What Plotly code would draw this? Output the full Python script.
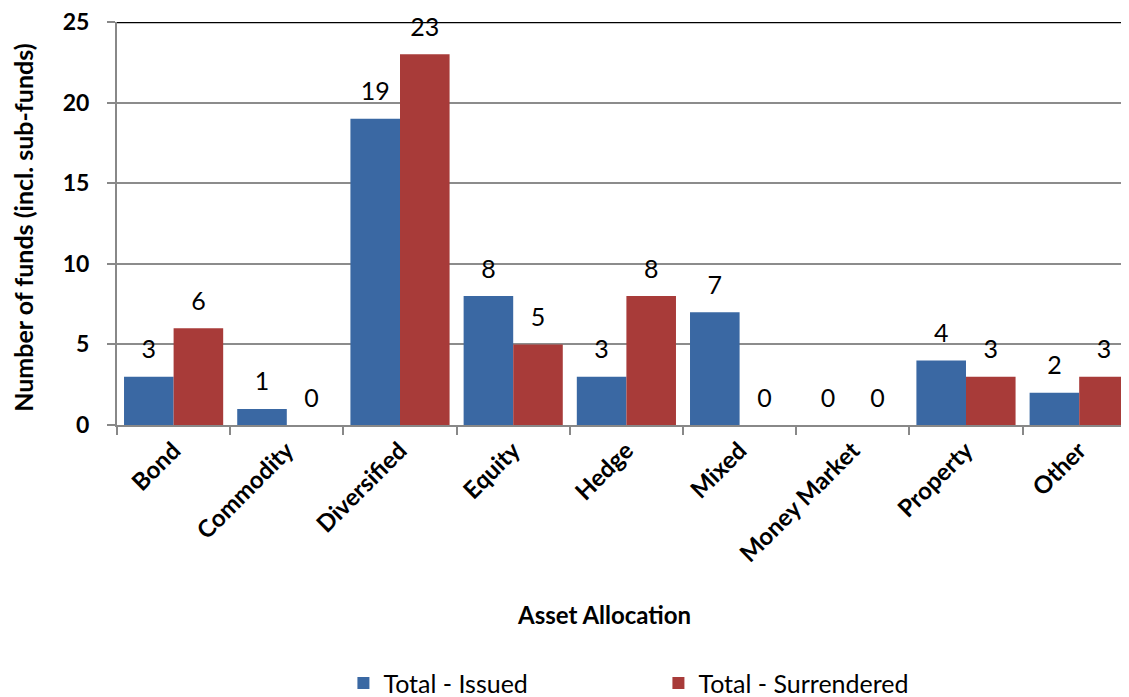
import plotly.graph_objects as go

categories = ["Bond", "Commodity", "Diversified", "Equity", "Hedge", "Mixed",
              "Money Market", "Property", "Other"]
issued = [3, 1, 19, 8, 3, 7, 0, 4, 2]
surrendered = [6, 0, 23, 5, 8, 0, 0, 3, 3]
y_ticks = [0, 5, 10, 15, 20, 25]

FONT = "Lato"
BLUE = "#3a68a3"
RED = "#a83b39"

fig = go.Figure()
for name, vals, col in [("Total - Issued", issued, BLUE),
                        ("Total - Surrendered", surrendered, RED)]:
    fig.add_trace(go.Bar(
        x=categories, y=vals, name=name,
        marker=dict(color=col, line=dict(width=0)),
        hoverinfo="skip",
    ))
for name, vals in [("Total - Issued", issued), ("Total - Surrendered", surrendered)]:
    fig.add_trace(go.Scatter(
        x=categories, y=vals, mode="markers+text", showlegend=False,
        text=[str(v) for v in vals], textposition="top center",
        marker=dict(size=18, color="rgba(0,0,0,0)"),
        textfont=dict(size=25, color="#000", family=FONT),
        cliponaxis=False, hoverinfo="skip",
    ))

# page body has an 8px margin, so the figure is drawn 8px smaller and offset
fig.update_layout(
    width=1121, height=689,
    margin=dict(l=109, r=0, t=14, b=272, autoexpand=False),
    plot_bgcolor="white", paper_bgcolor="white",
    barmode="group", bargap=0.124, bargroupgap=0,
    scattermode="group", scattergap=0.124,
    font=dict(family=FONT, color="#000"),
    showlegend=True,
    legend=dict(orientation="h", x=0.535, xanchor="center",
                yref="container", y=0.02, yanchor="middle",
                font=dict(size=25, family=FONT), itemwidth=30,
                traceorder="normal", entrywidth=270),
)
fig.update_xaxes(
    type="category", range=[-0.5, 8.44],
    tickson="boundaries", ticks="outside", ticklen=8, tickcolor="#888", tickwidth=2,
    showline=True, linecolor="#888", linewidth=2,
    tickangle=-45, tickfont=dict(size=24, family=FONT, weight="bold"),
    showgrid=False, automargin=False,
)
fig.update_yaxes(
    range=[0, 25], tickvals=y_ticks, ticks="outside", ticklen=8, tickcolor="#888", tickwidth=2,
    showline=True, linecolor="#888", linewidth=2,
    showgrid=True, gridcolor="#8c8c8c", gridwidth=2,
    tickfont=dict(size=23, family=FONT, weight="bold"), ticklabelstandoff=13,
    ticklabeloverflow="allow",
    zeroline=False, automargin=False,
)
fig.add_annotation(text="Asset Allocation", xref="paper", yref="paper",
                   x=0.481, y=-0.471, xanchor="center", yanchor="middle", showarrow=False,
                   font=dict(size=24, family=FONT, weight="bold", color="#000"))
fig.add_annotation(text="Number of funds (incl. sub-funds)", xref="paper", yref="paper",
                   x=-0.093, y=0.489, xanchor="center", yanchor="middle", showarrow=False,
                   textangle=-90,
                   font=dict(size=25, family=FONT, weight="bold", color="#000"))
fig.add_shape(type="line", xref="paper", yref="y", x0=0, x1=1, y0=25, y1=25,
              line=dict(color="#000", width=2.5), layer="above")

fig.write_html("out.html")
